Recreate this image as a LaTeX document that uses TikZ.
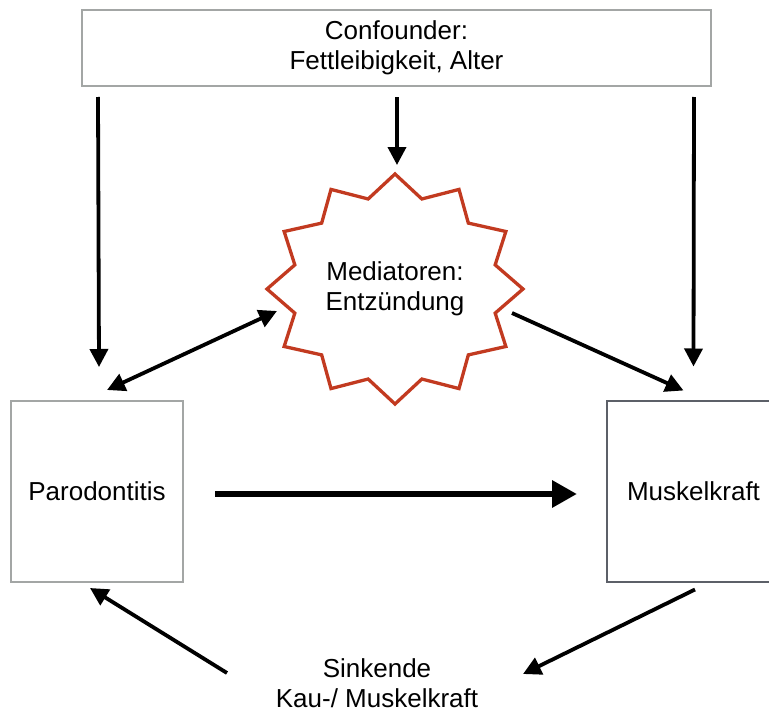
\documentclass[tikz,border=0pt]{standalone}
\usepackage{fontspec}
\setmainfont{Liberation Sans}
\usetikzlibrary{arrows.meta,calc}
\definecolor{boxgray}{HTML}{A3A6A5}
\definecolor{boxdark}{HTML}{5C6068}
\definecolor{starred}{HTML}{C23A20}
\begin{document}
\begin{tikzpicture}[x=1pt,y=-1pt,
  txt/.style={font=\fontsize{26}{30}\selectfont, align=center, text=black},
  boxnode/.style={txt, draw, line width=2pt, inner sep=0pt},
  conn/.style={line width=3.8pt, -{Triangle[length=18pt,width=18pt]}},
  dconn/.style={line width=3.8pt, {Triangle[length=18pt,width=18pt]}-{Triangle[length=18pt,width=18pt]}},
  thickconn/.style={line width=6.5pt, -{Triangle[length=25pt,width=26pt]}},
  starline/.style={draw=starred, line width=3.3pt, line join=miter}]
\useasboundingbox (0,0) rectangle (769,712);
\clip (0,0) rectangle (769,712);

\node[boxnode, draw=boxgray, minimum width=629, minimum height=76] (conf) at (396.5,48) {Confounder:\\Fettleibigkeit, Alter};
\node[boxnode, draw=boxgray, minimum width=172, minimum height=181] (paro) at (97,491.5) {Parodontitis};
\node[boxnode, draw=boxdark, minimum width=173, minimum height=181] (musk) at (693.5,491) {Muskelkraft};
\node[txt] (med) at (395,289) {Mediatoren:\\Entzündung};
\node[txt] (sink) at (377,683) {Sinkende\\Kau-/ Muskelkraft};

\draw[starline, shift={(med.center)}] (90:128 and 115)
  \foreach \k in {0,...,11}{ -- ({105+30*\k}:103.7 and 93.2) -- ({120+30*\k}:128 and 115)} -- cycle;

\draw[conn] ($(conf.south west)+(17,10)$) -- ($(paro.north)+(2,-33)$);
\draw[conn] ($(conf.south)+(0.5,10)$) -- ($(med.center)+(2,-124)$);
\draw[conn] ($(conf.south east)+(-18,10)$) -- ($(musk.north)+(0,-33)$);
\draw[dconn] ($(paro.north)+(10,-10)$) -- ($(med.center)+(-118,22)$);
\draw[conn] ($(med.center)+(117,24)$) -- ($(musk.north)+(-10,-9)$);
\draw[thickconn] ($(paro.east)+(31,2.5)$) -- ($(musk.west)+(-29,3)$);
\draw[conn] ($(musk.south)+(1.5,7)$) -- ($(sink.center)+(146,-9)$);
\draw[conn] ($(sink.center)+(-150,-10)$) -- ($(paro.south)+(-7,5)$);
\end{tikzpicture}
\end{document}
